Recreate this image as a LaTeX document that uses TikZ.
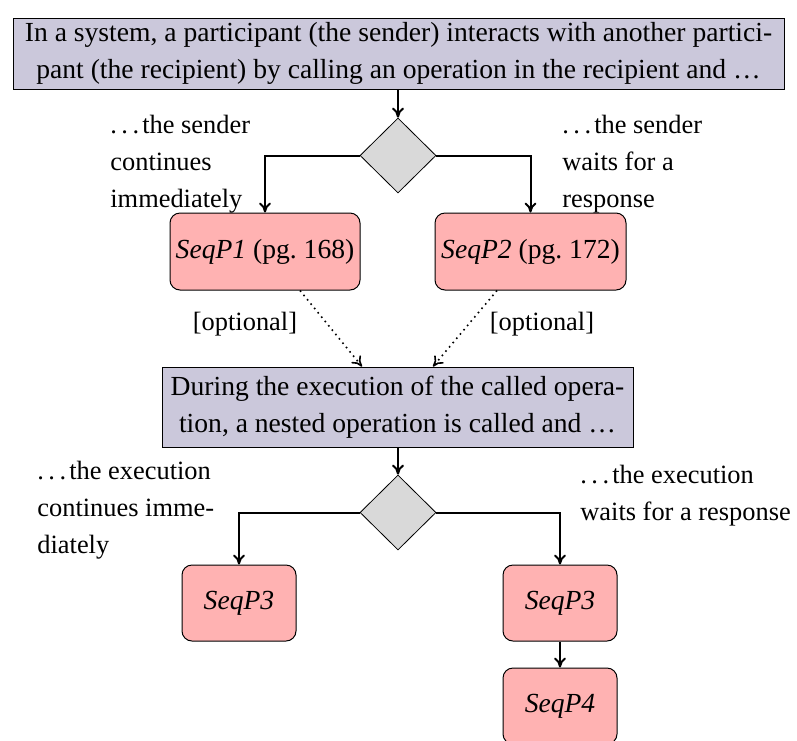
\documentclass[tikz,border=0pt]{standalone}
\usepackage{fontspec}
\setmainfont{Liberation Serif}
\usetikzlibrary{shapes.geometric,calc,arrows.meta}
\definecolor{boxblue}{RGB}{203,200,219}
\definecolor{boxpink}{RGB}{255,178,178}
\definecolor{decgray}{RGB}{217,217,217}
% spaced-out ellipsis as printed before the side notes
\newcommand{\spdots}{.\kern.17em.\kern.17em.\kern.12em}
\begin{document}
\begin{tikzpicture}[x=0.5pt,y=-0.5pt,
  font=\fontsize{13.8pt}{18.5pt}\selectfont,
  question/.style={draw,line width=0.5pt,fill=boxblue,rectangle,align=center,inner sep=0pt},
  pattern/.style={draw,line width=0.5pt,fill=boxpink,rectangle,rounded corners=5pt,align=center,inner sep=0pt},
  choice/.style={draw,line width=0.4pt,fill=decgray,diamond,aspect=1,inner sep=0pt,minimum width=38pt,minimum height=37.5pt},
  flow/.style={line width=1pt,-{To[length=5pt,width=6pt]}},
  optflow/.style={line width=0.8pt,dotted,-{To[length=5pt,width=6pt]}},
  note/.style={align=left,inner sep=0pt,anchor=west,font=\fontsize{13.2pt}{18.5pt}\selectfont},
  optlabel/.style={inner sep=0pt,font=\fontsize{13.2pt}{18.5pt}\selectfont}]
\useasboundingbox (0,0) rectangle (797,740);

% first question and its two outcomes
\node[question,minimum width=385.5pt,minimum height=35.5pt] (q1) at (398.5,53.5)
  {In a system, a participant (the sender) interacts with another partici-\\
   pant (the recipient) by calling an operation in the recipient and \ldots};
\node[choice] (d1) at (398,155.5) {};
\node[pattern,minimum width=95pt,minimum height=38.5pt] (p1) at (265,251.5) {\textit{SeqP1} (pg.~168)};
\node[pattern,minimum width=95.5pt,minimum height=38.5pt] (p2) at (530.5,251.5) {\textit{SeqP2} (pg.~172)};
\node[note] (n1) at (110,164) {\spdots the sender\\continues\\immediately};
\node[note] (n2) at (562,164) {\spdots the sender\\waits for a\\response};

\draw[flow] (q1.south -| d1.north) -- (d1.north);
\draw[flow] (d1.west) -| (p1.north);
\draw[flow] (d1.east) -| (p2.north);

% second question
\node[question,minimum width=235.5pt,minimum height=40pt] (q2) at (397.5,407)
  {During the execution of the called opera-\\
   tion, a nested operation is called and \ldots};
\node[optlabel] (o1) at (245,324) {[optional]};
\node[optlabel] (o2) at (542,324) {[optional]};
\draw[optflow] ($(p1.south)+(35,0)$) -- ($(q2.north)+(-35.5,0)$);
\draw[optflow] ($(p2.south)+(-33.5,0)$) -- ($(q2.north)+(35.5,0)$);

\node[choice] (d2) at (398,512.5) {};
\node[pattern,minimum width=57pt,minimum height=38pt] (p3a) at (239,603) {\textit{SeqP3}};
\node[pattern,minimum width=57pt,minimum height=38pt] (p3b) at (560,603) {\textit{SeqP3}};
\node[pattern,minimum width=57pt,minimum height=38pt] (p4) at (560,706) {\textit{SeqP4}};
\node[note] (n3) at (37,510) {\spdots the execution\\continues imme-\\diately};
\node[note] (n4) at (580,496) {\spdots the execution\\waits for a response};

\draw[flow] (q2.south -| d2.north) -- (d2.north);
\draw[flow] (d2.west) -| (p3a.north);
\draw[flow] (d2.east) -| (p3b.north);
\draw[flow] (p3b) -- (p4);
\end{tikzpicture}
\end{document}
